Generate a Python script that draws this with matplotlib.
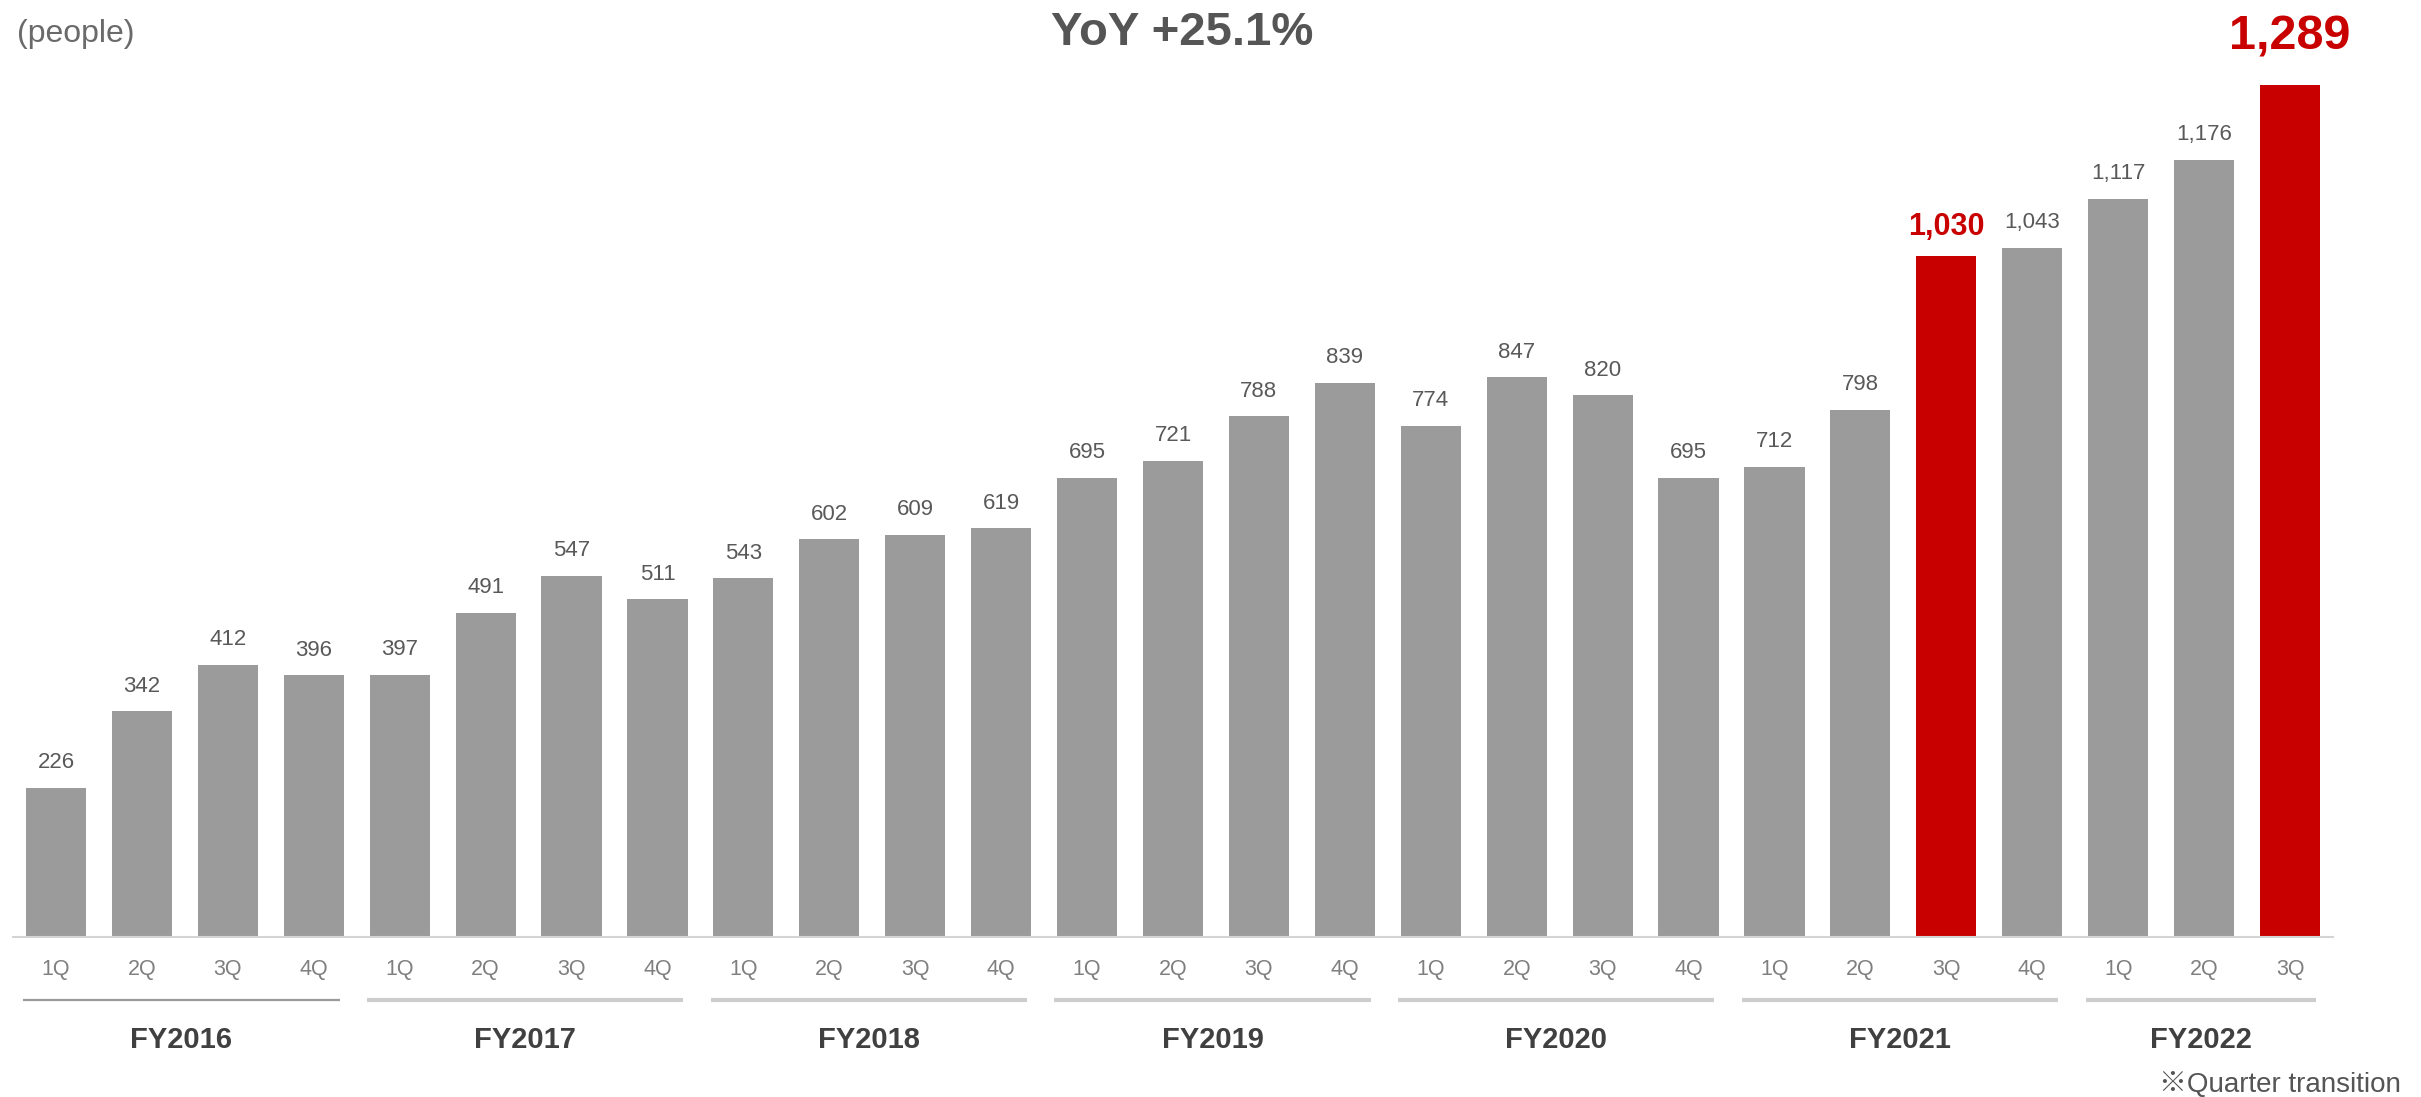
import numpy as np
import matplotlib
matplotlib.use("Agg")
import matplotlib.pyplot as plt

plt.rcParams['font.family'] = ['Liberation Sans', 'Noto Sans CJK JP', 'DejaVu Sans']

# Data: headcount per quarter
fiscal_years = ['FY2016', 'FY2017', 'FY2018', 'FY2019', 'FY2020', 'FY2021', 'FY2022']
quarters_per_year = [4, 4, 4, 4, 4, 4, 3]
quarter_labels = ['1Q', '2Q', '3Q', '4Q'] * 6 + ['1Q', '2Q', '3Q']
headcount = [226, 342, 412, 396,
             397, 491, 547, 511,
             543, 602, 609, 619,
             695, 721, 788, 839,
             774, 847, 820, 695,
             712, 798, 1030, 1043,
             1117, 1176, 1289]
highlighted = [('FY2021', '3Q'), ('FY2022', '3Q')]

GRAY = '#9b9b9b'
RED = '#c80000'

W, H = 2421, 1097
fig = plt.figure(figsize=(W / 100, H / 100), dpi=100)
ax = fig.add_axes([13 / W, 160 / H, 2320 / W, 892 / H])

# which fiscal year each bar belongs to
bar_years = []
for fy, n in zip(fiscal_years, quarters_per_year):
    bar_years += [fy] * n

x = np.arange(len(headcount))
is_hl = [(fy, q) in highlighted for fy, q in zip(bar_years, quarter_labels)]
colors = [RED if h else GRAY for h in is_hl]

bars = ax.bar(x, headcount, width=0.7, color=colors)

ax.set_xlim(-0.5, len(headcount) - 0.5)
ax.set_ylim(0, 1350)
for s in ['top', 'right', 'left']:
    ax.spines[s].set_visible(False)
ax.spines['bottom'].set_color('#d4d4d4')
ax.spines['bottom'].set_linewidth(1.5)
ax.set_xticks([])
ax.set_yticks([])

# value labels
last = len(headcount) - 1
for i, (val, h) in enumerate(zip(headcount, is_hl)):
    if h and i == last:
        size, off, col, wt = 35, 34.5, RED, 'bold'
    elif h:
        size, off, col, wt = 22, 21.5, RED, 'bold'
    else:
        size, off, col, wt = 16, 18, '#595959', 'normal'
    ax.annotate(f'{val:,}', (i, val), xytext=(0, off), textcoords='offset points',
                ha='center', va='center', fontsize=size, color=col, fontweight=wt)

# quarter labels under the axis
trans = ax.get_xaxis_transform()
ax_h = 892
for i, q in enumerate(quarter_labels):
    ax.text(i, -32 / ax_h, q, transform=trans, ha='center', va='center',
            fontsize=15.5, color='#7f7f7f')

# fiscal year group lines and labels
start = 0
for k, (fy, n) in enumerate(zip(fiscal_years, quarters_per_year)):
    x0, x1 = start - 0.38, start + n - 1 + 0.3
    if k == 0:
        ax.plot([x0, x1], [-63 / ax_h] * 2, transform=trans, clip_on=False,
                color='#9a9a9a', lw=1.6, solid_capstyle='butt')
    else:
        ax.plot([x0, x1], [-63 / ax_h] * 2, transform=trans, clip_on=False,
                color='#cdcdcd', lw=3, solid_capstyle='butt')
    ax.text((x0 + x1) / 2, -103 / ax_h, fy, transform=trans, ha='center', va='center',
            fontsize=21, fontweight='bold', color='#404040')
    start += n

fig.text(17 / W, 1 - 34 / H, '(people)', ha='left', va='center', fontsize=23, color='#6a6a6a')
fig.text(1182 / W, 1 - 33 / H, 'YoY +25.1%', ha='center', va='center', fontsize=34,
         fontweight='bold', color='#555555')
fig.text(2401 / W, 1 - 1085 / H, '※Quarter transition', ha='right', va='center',
         fontsize=20, color='#555555')

fig.savefig('out.png', dpi=100)
